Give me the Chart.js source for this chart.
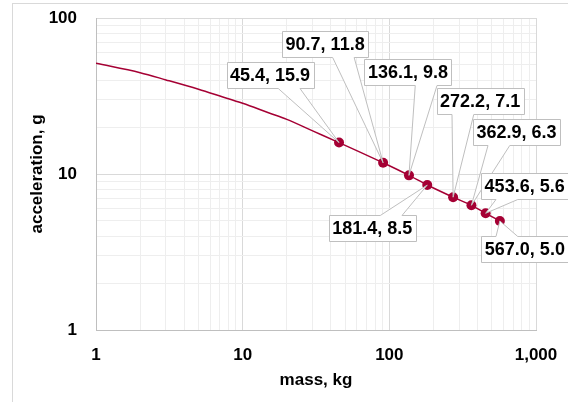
<!DOCTYPE html>
<html>
<head>
<meta charset="utf-8">
<script src="https://cdn.jsdelivr.net/npm/chart.js@4"></script>
<style>
  html, body { margin: 0; padding: 0; background: #ffffff; }
  #wrap { width: 568px; height: 402px; position: relative; }
</style>
</head>
<body>
<div id="wrap"><canvas id="c" width="568" height="402"></canvas></div>
<script>
// ---- data ----
const curveMass  = [1, 2, 3, 5, 7, 10, 15, 20, 30];
const curveAccel = [51.3, 44.6, 40.1, 34.9, 31.6, 28.4, 24.7, 22.4, 18.9];
const pointMass  = [45.4, 90.7, 136.1, 181.4, 272.2, 362.9, 453.6, 567.0];
const pointAccel = [15.9, 11.8, 9.8, 8.5, 7.1, 6.3, 5.6, 5.0];
const xTickLabels = ['1', '10', '100', '1,000'];
const yTickLabels = ['1', '10', '100'];
const xTitle = 'mass, kg';
const yTitle = 'acceleration, g';

// ---- label box placement (pixel offsets of box centre from its point) ----
const labelOffsets = [[-69, -68], [-58, -119], [-1, -103], [-55, 43], [27, -96], [45, -73], [39, -27], [25, 28]];

const RED = '#A50034';
const FONT = '"Liberation Sans", Arial, sans-serif';

const curveData = curveMass.map((m, i) => ({x: m, y: curveAccel[i]}))
  .concat(pointMass.map((m, i) => ({x: m, y: pointAccel[i]})));
const pointData = pointMass.map((m, i) => ({x: m, y: pointAccel[i]}));

function logTicks(min, max) {
  const t = [];
  for (let e = Math.log10(min); e < Math.log10(max); e++) {
    for (let k = 1; k <= 9; k++) t.push({value: k * Math.pow(10, e)});
  }
  t.push({value: max});
  return t;
}
function isMajor(v) {
  const l = Math.log10(v);
  return Math.abs(l - Math.round(l)) < 1e-9;
}

const frame = {
  id: 'frame',
  beforeDraw(chart) {
    const ctx = chart.ctx;
    ctx.save();
    ctx.fillStyle = '#ffffff';
    ctx.fillRect(0, 0, chart.width, chart.height);
    ctx.strokeStyle = '#D9D9D9';
    ctx.lineWidth = 1;
    ctx.strokeRect(12.5, 3.5, 700, 500);
    ctx.restore();
  }
};

const callouts = {
  id: 'callouts',
  afterDatasetsDraw(chart) {
    const ctx = chart.ctx;
    const xs = chart.scales.x, ys = chart.scales.y;
    ctx.save();
    ctx.font = 'bold 18px ' + FONT;
    ctx.textAlign = 'center';
    ctx.textBaseline = 'middle';
    pointMass.forEach((m, i) => {
      const a = pointAccel[i];
      const txt = m.toFixed(1) + ', ' + a.toFixed(1);
      const px = xs.getPixelForValue(m), py = ys.getPixelForValue(a);
      const cx = px + labelOffsets[i][0], cy = py + labelOffsets[i][1];
      const w = Math.round(ctx.measureText(txt).width + 7), h = 26;
      const l = Math.round(cx - w / 2) + 0.5, t = Math.round(cy - h / 2) + 0.5;
      const r = l + w, b = t + h;
      const dx = px - cx, dy = py - cy;
      const dq = dx * h / w;
      ctx.beginPath();
      if (Math.abs(dy) > Math.abs(dq)) {
        const x1 = l + w * (dx > 0 ? 7 : 2) / 12;
        const x2 = l + w * (dx > 0 ? 10 : 5) / 12;
        if (dy < 0) {
          ctx.moveTo(l, t); ctx.lineTo(x1, t); ctx.lineTo(px, py); ctx.lineTo(x2, t);
          ctx.lineTo(r, t); ctx.lineTo(r, b); ctx.lineTo(l, b); ctx.closePath();
        } else {
          ctx.moveTo(l, t); ctx.lineTo(r, t); ctx.lineTo(r, b); ctx.lineTo(x2, b);
          ctx.lineTo(px, py); ctx.lineTo(x1, b); ctx.lineTo(l, b); ctx.closePath();
        }
      } else {
        const y1 = t + h * (dy > 0 ? 7 : 2) / 12;
        const y2 = t + h * (dy > 0 ? 10 : 5) / 12;
        if (dx < 0) {
          ctx.moveTo(l, t); ctx.lineTo(r, t); ctx.lineTo(r, b); ctx.lineTo(l, b);
          ctx.lineTo(l, y2); ctx.lineTo(px, py); ctx.lineTo(l, y1); ctx.closePath();
        } else {
          ctx.moveTo(l, t); ctx.lineTo(r, t); ctx.lineTo(r, y1); ctx.lineTo(px, py);
          ctx.lineTo(r, y2); ctx.lineTo(r, b); ctx.lineTo(l, b); ctx.closePath();
        }
      }
      ctx.fillStyle = '#ffffff';
      ctx.fill();
      ctx.strokeStyle = '#BFBFBF';
      ctx.lineWidth = 1;
      ctx.stroke();
      ctx.fillStyle = '#000000';
      ctx.fillText(txt, cx, Math.round(cy) + 1);
    });
    ctx.restore();
  }
};

function axisCommon(labels, min, max, gap) {
  return {
    type: 'logarithmic',
    min: min, max: max,
    afterBuildTicks(scale) { scale.ticks = logTicks(min, max); },
    ticks: {
      autoSkip: false,
      maxRotation: 0,
      padding: 0,
      color: '#000000',
      font: {family: FONT, size: 17, weight: 'bold'},
      callback(v) {
        if (!isMajor(v)) return '';
        return labels[Math.round(Math.log10(v / min))];
      }
    },
    grid: {
      drawTicks: true,
      tickLength: gap,
      tickColor: 'rgba(0,0,0,0)',
      color(ctx) { return isMajor(ctx.tick.value) ? '#D9D9D9' : '#EEEEEE'; },
      lineWidth: 1
    },
    border: {color: '#BFBFBF', width: 1},
    title: {
      display: true,
      color: '#000000',
      font: {family: FONT, size: 17, weight: 'bold'}
    }
  };
}

const xAxis = axisCommon(xTickLabels, 1, 1000, 15);
xAxis.position = 'bottom';
xAxis.title.text = xTitle;
xAxis.title.padding = {top: 0, bottom: 11};
xAxis.afterFit = (s) => { s.height = 72; };

const yAxis = axisCommon(yTickLabels, 1, 100, 19);
yAxis.position = 'left';
yAxis.title.text = yTitle;
yAxis.title.padding = {top: 27, bottom: 0};
yAxis.afterFit = (s) => { s.width = 96; };

new Chart(document.getElementById('c'), {
  type: 'scatter',
  data: {
    datasets: [
      {
        data: curveData,
        showLine: true,
        borderColor: RED,
        borderWidth: 1.5,
        pointRadius: 0,
        cubicInterpolationMode: 'monotone',
        order: 2
      },
      {
        data: pointData,
        showLine: false,
        pointRadius: 5,
        pointBackgroundColor: RED,
        pointBorderColor: RED,
        pointBorderWidth: 0,
        order: 1
      }
    ]
  },
  options: {
    responsive: false,
    animation: false,
    devicePixelRatio: 1,
    layout: {padding: {left: 0, right: 32, top: 18, bottom: 0}},
    plugins: {legend: {display: false}, tooltip: {enabled: false}},
    scales: {x: xAxis, y: yAxis}
  },
  plugins: [frame, callouts]
});
</script>
</body>
</html>
